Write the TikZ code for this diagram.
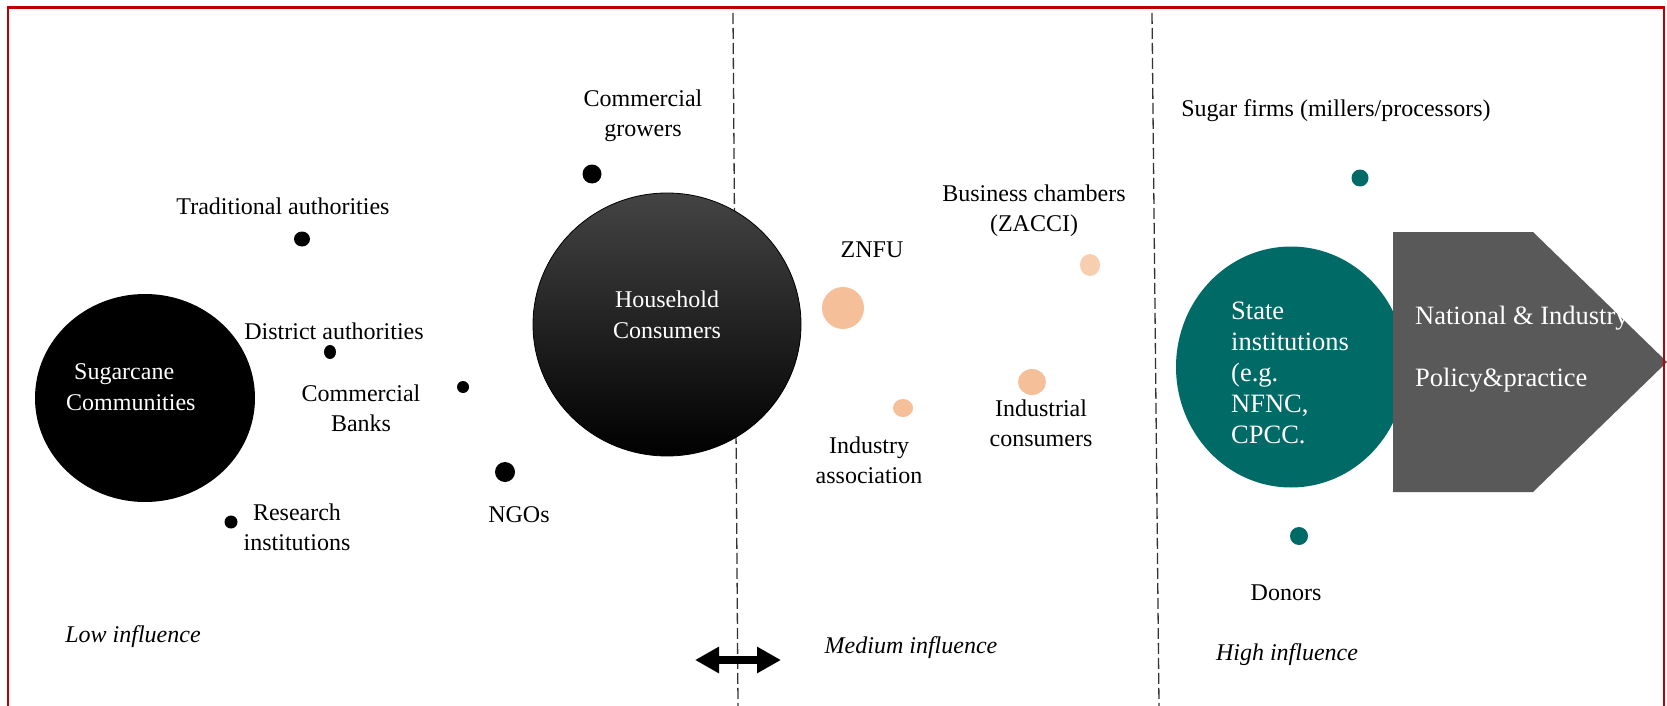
\documentclass[tikz,border=0pt]{standalone}
\usepackage{fontspec}
\setmainfont{Liberation Serif}
\usetikzlibrary{arrows.meta,shapes.geometric}
\definecolor{framered}{HTML}{C00000}
\definecolor{tealfill}{HTML}{006A66}
\definecolor{peach}{HTML}{F5BF99}
\definecolor{peachlight}{HTML}{F8CEB0}
\definecolor{boxgray}{HTML}{595959}
\definecolor{hhtop}{HTML}{444444}
\definecolor{divgray}{HTML}{333333}
\begin{document}
\begin{tikzpicture}[x=1pt,y=-1pt,
  lbl/.style={font=\fontsize{24}{30}\selectfont, align=center, inner sep=0pt},
  ital/.style={font=\fontsize{24}{30}\selectfont\itshape, inner sep=0pt},
  inlbl/.style={font=\fontsize{24}{31}\selectfont, text=white, inner sep=0pt},
  biglbl/.style={font=\fontsize{26.5}{31}\selectfont, text=white, align=left, inner sep=0pt, anchor=west},
  blob/.style={ellipse, inner sep=0pt},
  dot/.style={ellipse, inner sep=0pt, fill=#1},
  divider/.style={divgray, line width=1.3pt, dash pattern=on 11pt off 4pt},
]
\useasboundingbox (0,0) rectangle (1667,706);

% influence zone dividers
\coordinate (d1t) at (733,13);  \coordinate (d1b) at (738,706);
\coordinate (d2t) at (1152,13); \coordinate (d2b) at (1159,706);
\draw[divider] (d1t) -- (d1b);
\draw[divider] (d2t) -- (d2b);

% ---------- low influence ----------
\node[blob, fill=black, minimum width=220pt, minimum height=208pt] (sugar) at (145,398) {};
\node[inlbl, align=left, anchor=west] (sugartxt) at (66,387) {\hspace*{8pt}Sugarcane\\Communities};

\node[dot=black, minimum width=19pt, minimum height=19pt] (cgdot) at (592,174) {};
\node[lbl] (cg) at (643,116) {Commercial\\growers};

\node[dot=black, minimum width=16pt, minimum height=15pt] (tradot) at (302,239) {};
\node[lbl] (tra) at (283,206) {Traditional authorities};

\node[dot=black, minimum width=12pt, minimum height=14pt] (disdot) at (330,352) {};
\node[lbl] (dis) at (334,331) {District authorities};

\node[dot=black, minimum width=12pt, minimum height=12pt] (bankdot) at (463,387) {};
\node[lbl] (bank) at (361,408) {Commercial\\Banks};

\node[dot=black, minimum width=20pt, minimum height=20pt] (ngodot) at (505,472) {};
\node[lbl] (ngo) at (519,515) {NGOs};

\node[dot=black, minimum width=13pt, minimum height=13pt] (resdot) at (231,522) {};
\node[lbl] (res) at (297,527) {Research\\institutions};

\node[ital] (low) at (133,637) {Low influence};

% household consumers straddle the low/medium border
\node[blob, draw=black, line width=0.8pt, top color=hhtop, middle color=black, bottom color=black,
      minimum width=268pt, minimum height=263pt] (hh) at (667,324.5) {};
\node[inlbl, align=center] (hhtxt) at (667,314.5) {Household\\Consumers};

\coordinate (arL) at (695,660);
\coordinate (arR) at (781,660);
\draw[line width=7.5pt, {Triangle[length=24pt,width=25pt]}-{Triangle[length=24pt,width=25pt]}] (arL) -- (arR);

% ---------- medium influence ----------
\node[dot=peach, minimum width=42pt, minimum height=42pt] (znfudot) at (843,308) {};
\node[lbl] (znfu) at (872,250) {ZNFU};

\node[dot=peachlight, minimum width=20pt, minimum height=22pt] (zaccidot) at (1090,265) {};
\node[lbl] (zacci) at (1034,211) {Business chambers\\(ZACCI)};

\node[dot=peach, minimum width=20pt, minimum height=18pt] (iadot) at (903,408) {};
\node[lbl] (ia) at (869,460) {Industry\\association};

\node[dot=peach, minimum width=28pt, minimum height=26pt] (icdot) at (1032,382) {};
\node[lbl] (ic) at (1041,423) {Industrial\\consumers};

\node[ital] (med) at (911,648) {Medium influence};

% ---------- high influence ----------
\node[dot=tealfill, minimum width=17pt, minimum height=17pt] (sfdot) at (1360,178) {};
\node[lbl] (sf) at (1336,111) {Sugar firms (millers/processors)};

\node[blob, fill=tealfill, minimum width=230pt, minimum height=241pt] (state) at (1291,367) {};
\node[biglbl] (statetxt) at (1231,372.5) {State\\institutions\\(e.g.\\NFNC,\\CPCC.};

% policy arrow block
\fill[boxgray] (1393,232) -- (1533,232) -- (1667,362) -- (1533,492) -- (1393,492) -- cycle;
\node[biglbl] (policy) at (1415,349) {National \& Industry\\[31pt]Policy\&practice};

\node[dot=tealfill, minimum width=18pt, minimum height=18pt] (dondot) at (1299,536) {};
\node[lbl] (don) at (1286,593) {Donors};

\node[ital] (high) at (1287,655) {High influence};

% frame (open at the bottom)
\draw[framered, line width=2.5pt] (8,715) -- (8,7.5) -- (1664,7.5) -- (1664,715);
\end{tikzpicture}
\end{document}
